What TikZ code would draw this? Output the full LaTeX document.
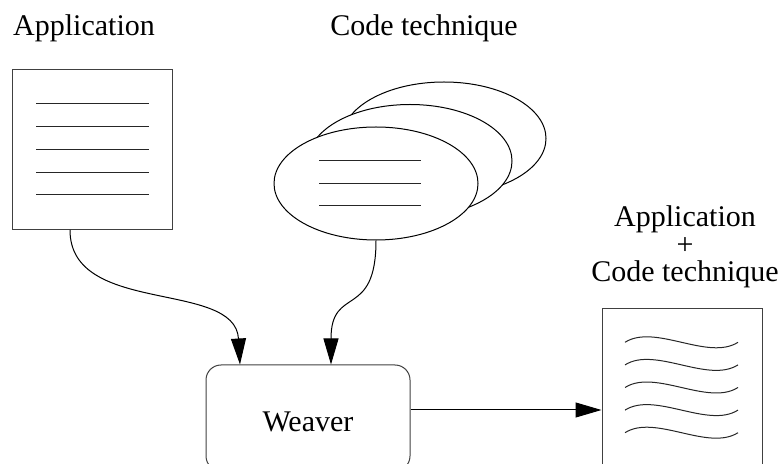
\documentclass[tikz,border=0pt]{standalone}
\usepackage{fontspec}
\setmainfont{Liberation Serif}
\usetikzlibrary{shapes.geometric, arrows.meta}
\tikzstyle{docpage} = [rectangle, draw=black!75, line width=0.5pt, inner sep=0pt, minimum width=80pt, minimum height=80pt]
\tikzstyle{codeleaf} = [ellipse, draw=black, fill=white, line width=0.5pt, inner sep=0pt, minimum width=102pt, minimum height=56.5pt]
\tikzstyle{process} = [rectangle, rounded corners=7.5pt, draw=black!75, line width=0.5pt, minimum width=102pt, minimum height=53pt, text height=14pt, font=\fontsize{15}{13.75}\selectfont]
\tikzstyle{heading} = [font=\fontsize{15}{13.75}\selectfont, inner sep=0pt]
\tikzstyle{textline} = [line width=0.5pt, black!85]
\tikzstyle{arrow} = [line width=0.5pt, -{Triangle[length=13pt,width=7.5pt]}]

\begin{document}
\begin{tikzpicture}[x=0.5pt, y=-0.5pt]
	\useasboundingbox (0,0) rectangle (782,464);
	
	\node (applabel) [heading, anchor=base] at (84,36) {Application};
	\node (codelabel) [heading, anchor=base] at (424,36) {Code technique};
	
	\node (appdoc) [docpage] at (92.5,149.5) {};
	\foreach \i in {0,...,4}
		\draw [textline] (36,{104+22.75*\i}) -- (149,{104+22.75*\i});
	
	\node (codeback) [codeleaf] at (444,138.5) {};
	\node (codemid) [codeleaf] at (410,161) {};
	\node (codefront) [codeleaf] at (376,183.5) {};
	\foreach \i in {0,1,2}
		\draw [textline] (319,{160.5+22.75*\i}) -- (421,{160.5+22.75*\i});
	
	\node (weaver) [process] at (308,418) {Weaver};
	
	\node (outdoc) [docpage, minimum height=81pt] at (682,389.5) {};
	\node (outlabel) [heading, align=center, anchor=south] at (685,288.5) {Application\\+\\Code technique};
	\foreach \i in {0,...,4}
		\draw [textline] (625,{342.3+22.6*\i}) .. controls +(30,-19) and +(-30,19) .. +(113,0);
	
	\draw [arrow] ([xshift=-11.25pt]appdoc.south) .. controls +(0,86) and +(-5,-85) .. ([xshift=-34pt]weaver.north);
	\draw [arrow] (codefront.south) .. controls +(0,80) and +(0,-80) .. ([xshift=11.5pt]weaver.north);
	\draw [arrow] ([yshift=4pt]weaver.east) -- ([yshift=4pt]weaver.east -| outdoc.west);
	
\end{tikzpicture}
\end{document}
